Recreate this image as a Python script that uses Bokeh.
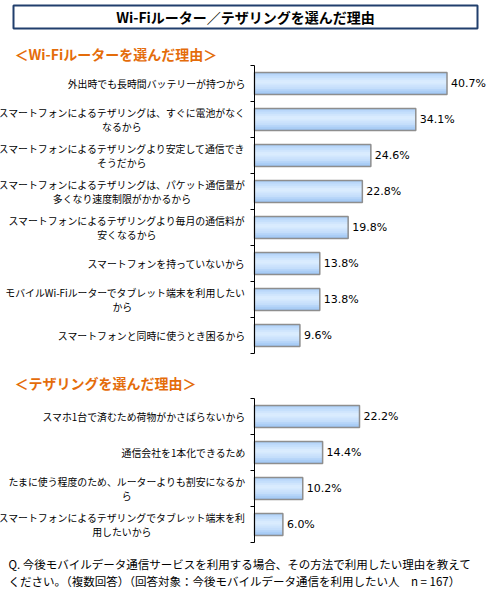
import math
from bokeh.plotting import figure
from bokeh.models import Range1d, LinearAxis, FixedTicker, ColumnDataSource
from bokeh.core.properties import value
from bokeh.embed import file_html
from bokeh.resources import INLINE

# ---------------- data ----------------
chart_title = "Wi-Fiルーター／テザリングを選んだ理由"
router_heading = "＜Wi-Fiルーターを選んだ理由＞"
tether_heading = "＜テザリングを選んだ理由＞"

router_reasons = [
    "外出時でも長時間バッテリーが持つから",
    "スマートフォンによるテザリングは、すぐに電池がなく\nなるから",
    "スマートフォンによるテザリングより安定して通信でき\nそうだから",
    "スマートフォンによるテザリングは、パケット通信量が\n多くなり速度制限がかかるから",
    "スマートフォンによるテザリングより毎月の通信料が\n安くなるから",
    "スマートフォンを持っていないから",
    "モバイルWi-Fiルーターでタブレット端末を利用したい\nから",
    "スマートフォンと同時に使うとき困るから",
]
router_values = [40.7, 34.1, 24.6, 22.8, 19.8, 13.8, 13.8, 9.6]

tether_reasons = [
    "スマホ1台で済むため荷物がかさばらないから",
    "通信会社を1本化できるため",
    "たまに使う程度のため、ルーターよりも割安になるか\nら",
    "スマートフォンによるテザリングでタブレット端末を利\n用したいから",
]
tether_values = [22.2, 14.4, 10.2, 6.0]

footnote_lines = [
    "Q. 今後モバイルデータ通信サービスを利用する場合、その方法で利用したい理由を教えて",
    "ください。（複数回答）（回答対象：今後モバイルデータ通信を利用したい人　n = 167）",
]

# ---------------- layout constants ----------------
W, H = 490, 590
AXIS_X = 254          # pixel position of the value axis
SCALE = 4.73          # pixels per percent
ROW = 36.0            # pixels per category row
BAR_H = 22.0 / ROW
CHART1_TOP = 65
CHART2_TOP = 398
JP = value("Noto Sans CJK JP")
LABEL_FS = 9.9
LINE_GAP = 14

p = figure(
    width=W, height=H,
    x_range=Range1d(-AXIS_X / SCALE, (W - AXIS_X) / SCALE),
    y_range=Range1d(H, 0),
    x_axis_type=None, y_axis_type=None,
    toolbar_location=None, output_backend="svg",
    min_border=0, min_border_left=0, min_border_right=0,
    min_border_top=0, min_border_bottom=0,
    outline_line_color=None,
)
p.background_fill_color = "white"
p.border_fill_color = "white"
p.extra_x_ranges = {"px": Range1d(0, W)}
p.extra_y_ranges = {
    "r1": Range1d((H - CHART1_TOP) / ROW, -CHART1_TOP / ROW),
    "r2": Range1d((H - CHART2_TOP) / ROW, -CHART2_TOP / ROW),
}

# ---------------- title box & headings ----------------
p.quad(left=[13], right=[477], top=[5], bottom=[28], x_range_name="px",
       fill_color="white", line_color="#213f6d", line_width=2)
p.text(x=[245], y=[16.5], text=[chart_title], x_range_name="px",
       text_font=JP, text_font_style="bold", text_font_size="14px",
       text_align="center", text_baseline="middle", text_color="black")
p.text(x=[14, 14], y=[53, 382], text=[router_heading, tether_heading], x_range_name="px",
       text_font=JP, text_font_style="bold", text_font_size="14px",
       text_align="left", text_baseline="middle", text_color="#e46c0a")

# ---------------- gradient helpers ----------------
stops = [(0.0, "#a4caf5"), (0.12, "#bddafb"), (0.42, "#ddeeff"),
         (0.72, "#c3ddfb"), (1.0, "#98c1f2")]


def hex2rgb(h):
    return tuple(int(h[i:i + 2], 16) for i in (1, 3, 5))


def color_at(t):
    for (t0, c0), (t1, c1) in zip(stops[:-1], stops[1:]):
        if t0 <= t <= t1:
            f = (t - t0) / (t1 - t0)
            a, b = hex2rgb(c0), hex2rgb(c1)
            return "#%02x%02x%02x" % tuple(round(x + (y - x) * f) for x, y in zip(a, b))
    return stops[-1][1]


def est_width(s, fs):
    return sum(fs if ord(c) > 0x2000 else fs * 0.58 for c in s)


def draw_chart(labels, values, rname):
    n = len(values)
    centers = [i + 0.5 for i in range(n)]
    # gradient bands: each band covers from its top down to the bar bottom
    N = 12
    for k in range(N):
        t0 = k / N
        tops = [c - BAR_H / 2 + t0 * BAR_H for c in centers]
        bottoms = [c + BAR_H / 2 for c in centers]
        src = ColumnDataSource(dict(
            y=[(a + b) / 2 for a, b in zip(tops, bottoms)],
            h=[b - a for a, b in zip(tops, bottoms)],
            v=values))
        p.hbar(y="y", height="h", left=0, right="v", source=src, y_range_name=rname,
               fill_color=color_at((k + 0.5) / N), line_color=None)
    src = ColumnDataSource(dict(y=centers, v=values,
                                lbl=["%.1f%%" % v for v in values]))
    p.hbar(y="y", height=BAR_H, left=0, right="v", source=src, y_range_name=rname,
           fill_color=None, line_color="#8e8e8e", line_width=1.5)
    p.text(x="v", y="y", text="lbl", source=src, y_range_name=rname,
           x_offset=4, text_align="left", text_baseline="middle",
           text_font=value("DejaVu Sans"), text_font_size="11px", text_color="black")

    # category labels: block right-aligned 9px left of the axis, lines centred in block
    rows = dict(y=[], text=[], xo=[], yo=[])
    for c, lab in zip(centers, labels):
        lines = lab.split("\n")
        bw = max(est_width(l, LABEL_FS) for l in lines)
        for j, l in enumerate(lines):
            rows["y"].append(c)
            rows["text"].append(l)
            rows["xo"].append(-(9 + (bw - est_width(l, LABEL_FS)) / 2))
            rows["yo"].append((j - (len(lines) - 1) / 2) * LINE_GAP)
    p.text(x=0, y="y", text="text", source=ColumnDataSource(rows), y_range_name=rname,
           x_offset="xo", y_offset="yo", text_align="right", text_baseline="middle",
           text_font=JP, text_font_size="%.1fpx" % LABEL_FS, text_color="black")

    # value axis line (no tick labels) plus outward ticks at category boundaries
    ax = LinearAxis(y_range_name=rname, fixed_location=0, bounds=(0, n),
                    ticker=FixedTicker(ticks=[]),
                    major_tick_line_color=None, minor_tick_line_color=None,
                    axis_line_color="black", axis_line_width=1)
    p.add_layout(ax, "left")
    p.ray(x=0, y=list(range(n + 1)), length=4, length_units="screen", angle=math.pi,
          y_range_name=rname, line_color="black", line_width=1)


draw_chart(router_reasons, router_values, "r1")
draw_chart(tether_reasons, tether_values, "r2")

# ---------------- footnote ----------------
p.text(x=[8, 8], y=[563, 580], text=footnote_lines, x_range_name="px",
       text_font=JP, text_font_size="11.5px", text_align="left",
       text_baseline="middle", text_color="black")

open("out.html", "w").write(file_html(p, INLINE))
